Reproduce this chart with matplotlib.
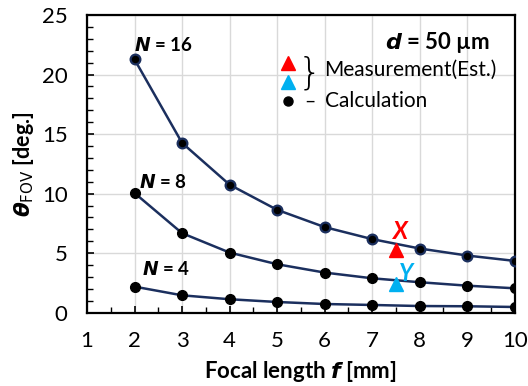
import matplotlib
matplotlib.use("Agg")
import matplotlib.pyplot as plt
from matplotlib.ticker import MultipleLocator

plt.rcParams['font.family'] = ['Lato', 'DejaVu Sans']
plt.rcParams['mathtext.fontset'] = 'dejavusans'

focal = [2, 3, 4, 5, 6, 7, 8, 9, 10]
n16 = [21.27, 14.26, 10.75, 8.64, 7.19, 6.18, 5.39, 4.80, 4.35]
n8 = [10.05, 6.68, 5.05, 4.07, 3.37, 2.89, 2.56, 2.27, 2.05]
n4 = [2.19, 1.46, 1.13, 0.90, 0.73, 0.65, 0.56, 0.54, 0.48]
meas_f = [7.5, 7.5]
meas_theta = [5.28, 2.40]
meas_labels = ['X', 'Y']
meas_colors = ['#FF0000', '#00B0F0']

navy = '#1B2F5E'

fig = plt.figure(figsize=(5.28, 3.86), dpi=100)
ax = fig.add_axes([87/528, 1 - 312.7/386, (514.7-87)/528, (312.7-15)/386])

ax.plot(focal, n16, '-o', color=navy, lw=1.8, ms=7, mfc='black', mec=navy, mew=1.6, zorder=3)
ax.plot(focal, n8, '-o', color=navy, lw=1.8, ms=7, mfc='black', mec='black', zorder=3)
ax.plot(focal, n4, '-o', color=navy, lw=1.8, ms=7, mfc='black', mec='black', zorder=3)

for fx, th, c in zip(meas_f, meas_theta, meas_colors):
    ax.plot([fx], [th], '^', color=c, ms=10, zorder=4)
ax.text(7.59, 6.8, meas_labels[0], color=meas_colors[0], fontsize=17, fontweight='bold',
        style='italic', ha='center', va='center')
ax.text(7.72, 3.26, meas_labels[1], color=meas_colors[1], fontsize=17, fontweight='bold',
        style='italic', ha='center', va='center')

ax.text(1.98, 22.5, r'$\mathbfit{N}$ = 16', fontsize=13.5, fontweight='bold', ha='left', va='center')
ax.text(2.09, 11.0, r'$\mathbfit{N}$ = 8', fontsize=13.5, fontweight='bold', ha='left', va='center')
ax.text(2.15, 3.68, r'$\mathbfit{N}$ = 4', fontsize=13.5, fontweight='bold', ha='left', va='center')

ax.text(9.48, 22.73, r'$\mathbfit{d}$ = 50 µm', fontsize=16, fontweight='bold', ha='right', va='center')

# legend-like annotations
ax.plot([5.23], [21.0], '^', color=meas_colors[0], ms=10, clip_on=False)
ax.plot([5.23], [19.36], '^', color=meas_colors[1], ms=10, clip_on=False)
ax.plot([5.23], [17.76], 'o', color='black', ms=6.5, clip_on=False)
ax.text(5.69, 20.15, '}', fontsize=27, fontweight='light', ha='center', va='center',
        family='DejaVu Sans')
ax.text(6.0, 20.37, 'Measurement(Est.)', fontsize=15, ha='left', va='center')
ax.text(5.69, 17.76, '–', fontsize=14, ha='center', va='center')
ax.text(6.0, 17.76, 'Calculation', fontsize=15, ha='left', va='center')

ax.set_xlim(1, 10)
ax.set_ylim(0, 25)
ax.xaxis.set_major_locator(MultipleLocator(1))
ax.xaxis.set_minor_locator(MultipleLocator(0.5))
ax.yaxis.set_major_locator(MultipleLocator(5))
ax.yaxis.set_minor_locator(MultipleLocator(1))
ax.tick_params(which='both', direction='in', labelsize=16, color='black')
ax.tick_params(which='major', length=5, width=1.2)
ax.tick_params(axis='x', which='major', pad=13)
ax.tick_params(axis='y', which='major', pad=14)
ax.tick_params(which='minor', length=4, width=1.0)
ax.grid(True, which='major', color='#D9D9D9', lw=1.0, zorder=0)
ax.set_axisbelow(True)
for s in ax.spines.values():
    s.set_linewidth(1.6)
    s.set_color('black')

ax.set_xlabel(r'Focal length $\mathbfit{f}$ [mm]', fontsize=16, fontweight='bold', labelpad=6)
ax.set_ylabel(r'$\mathbfit{\theta}_{\mathrm{FOV}}$ [deg.]', fontsize=15.5, fontweight='bold', labelpad=4)

fig.savefig('out.png', dpi=100)
